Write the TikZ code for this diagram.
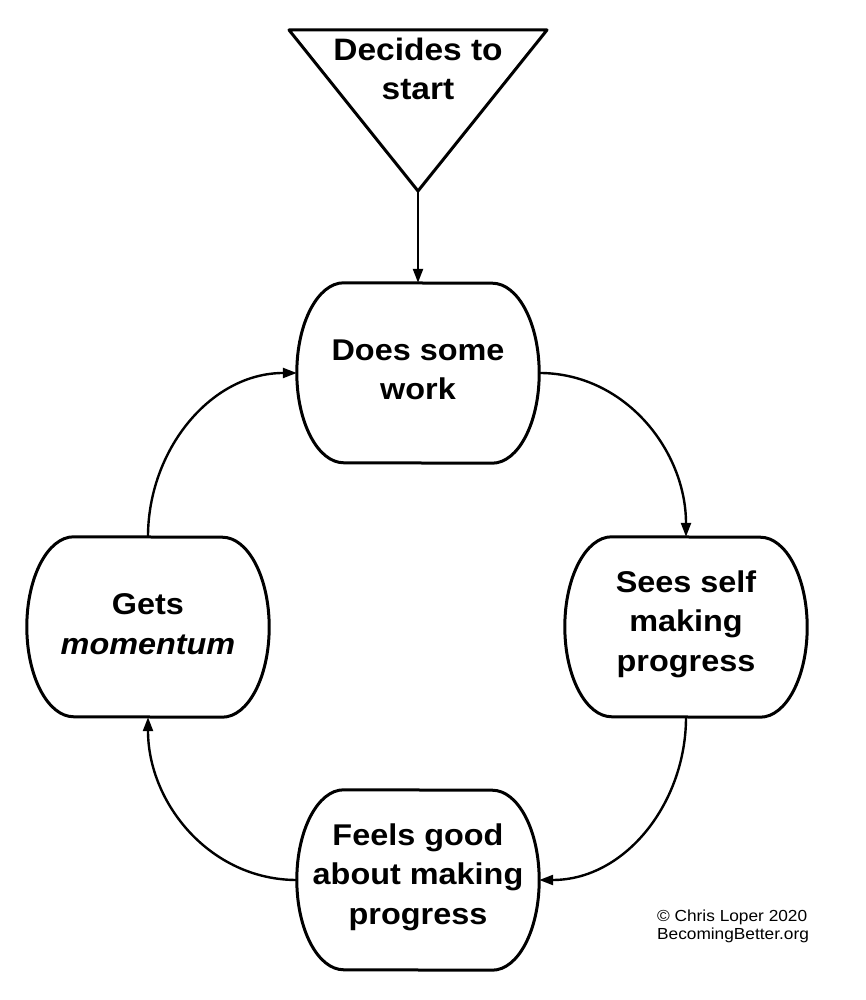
\documentclass[tikz,border=0pt]{standalone}
\usepackage{fontspec}
\setmainfont{Liberation Sans}[FakeStretch=1.08]
\usetikzlibrary{arrows.meta}
\tikzset{
  stage/.style={rectangle, minimum width=242pt, minimum height=180pt, inner sep=0pt, align=center, font=\fontsize{30}{39.5}\selectfont\bfseries},
  outline/.style={line width=3pt, line join=round},
  flow/.style={line width=2.4pt, -{Triangle[length=14pt,width=10pt]}},
}
\begin{document}
\begin{tikzpicture}[x=1pt, y=1pt]
\useasboundingbox (0,0) rectangle (866,1000);
% entry point
\node[align=center, font=\fontsize{31}{39}\selectfont\bfseries] (start) at (418,931) {Decides to\\start};
\coordinate (apex) at (418,809);
\draw[outline] (289,970) -- (547,970) -- (apex) -- cycle;

% the loop
\node[stage] (work) at (418,627) {Does some\\work\vspace{6pt}};
\node[stage] (sees) at (686,373) {Sees self\\making\\progress\vspace{6pt}};
\node[stage] (feels) at (418,120) {Feels good\\about making\\progress\vspace{6pt}};
\node[stage] (gets) at (148,373) {Gets\\\textit{momentum}\vspace{6pt}};

\foreach \n in {work,sees,feels,gets}
  \draw[outline] ([xshift=47pt]\n.north west) arc[start angle=90, end angle=270, x radius=47pt, y radius=90pt]
    -- ([xshift=-47pt]\n.south east) arc[start angle=-90, end angle=90, x radius=47pt, y radius=90pt] -- cycle;

\draw[flow] (apex) -- (work.north);
\draw[flow] (work.east) to[out=0, in=90] (sees.north);
\draw[flow] (sees.south) to[out=-90, in=0] (feels.east);
\draw[flow] (feels.west) to[out=180, in=-90] (gets.south);
\draw[flow] (gets.north) to[out=90, in=180] (work.west);

\node[align=left, font=\fontsize{16}{18}\selectfont] (credit) at (733,74) {© Chris Loper 2020\\BecomingBetter.org};
\end{tikzpicture}
\end{document}
